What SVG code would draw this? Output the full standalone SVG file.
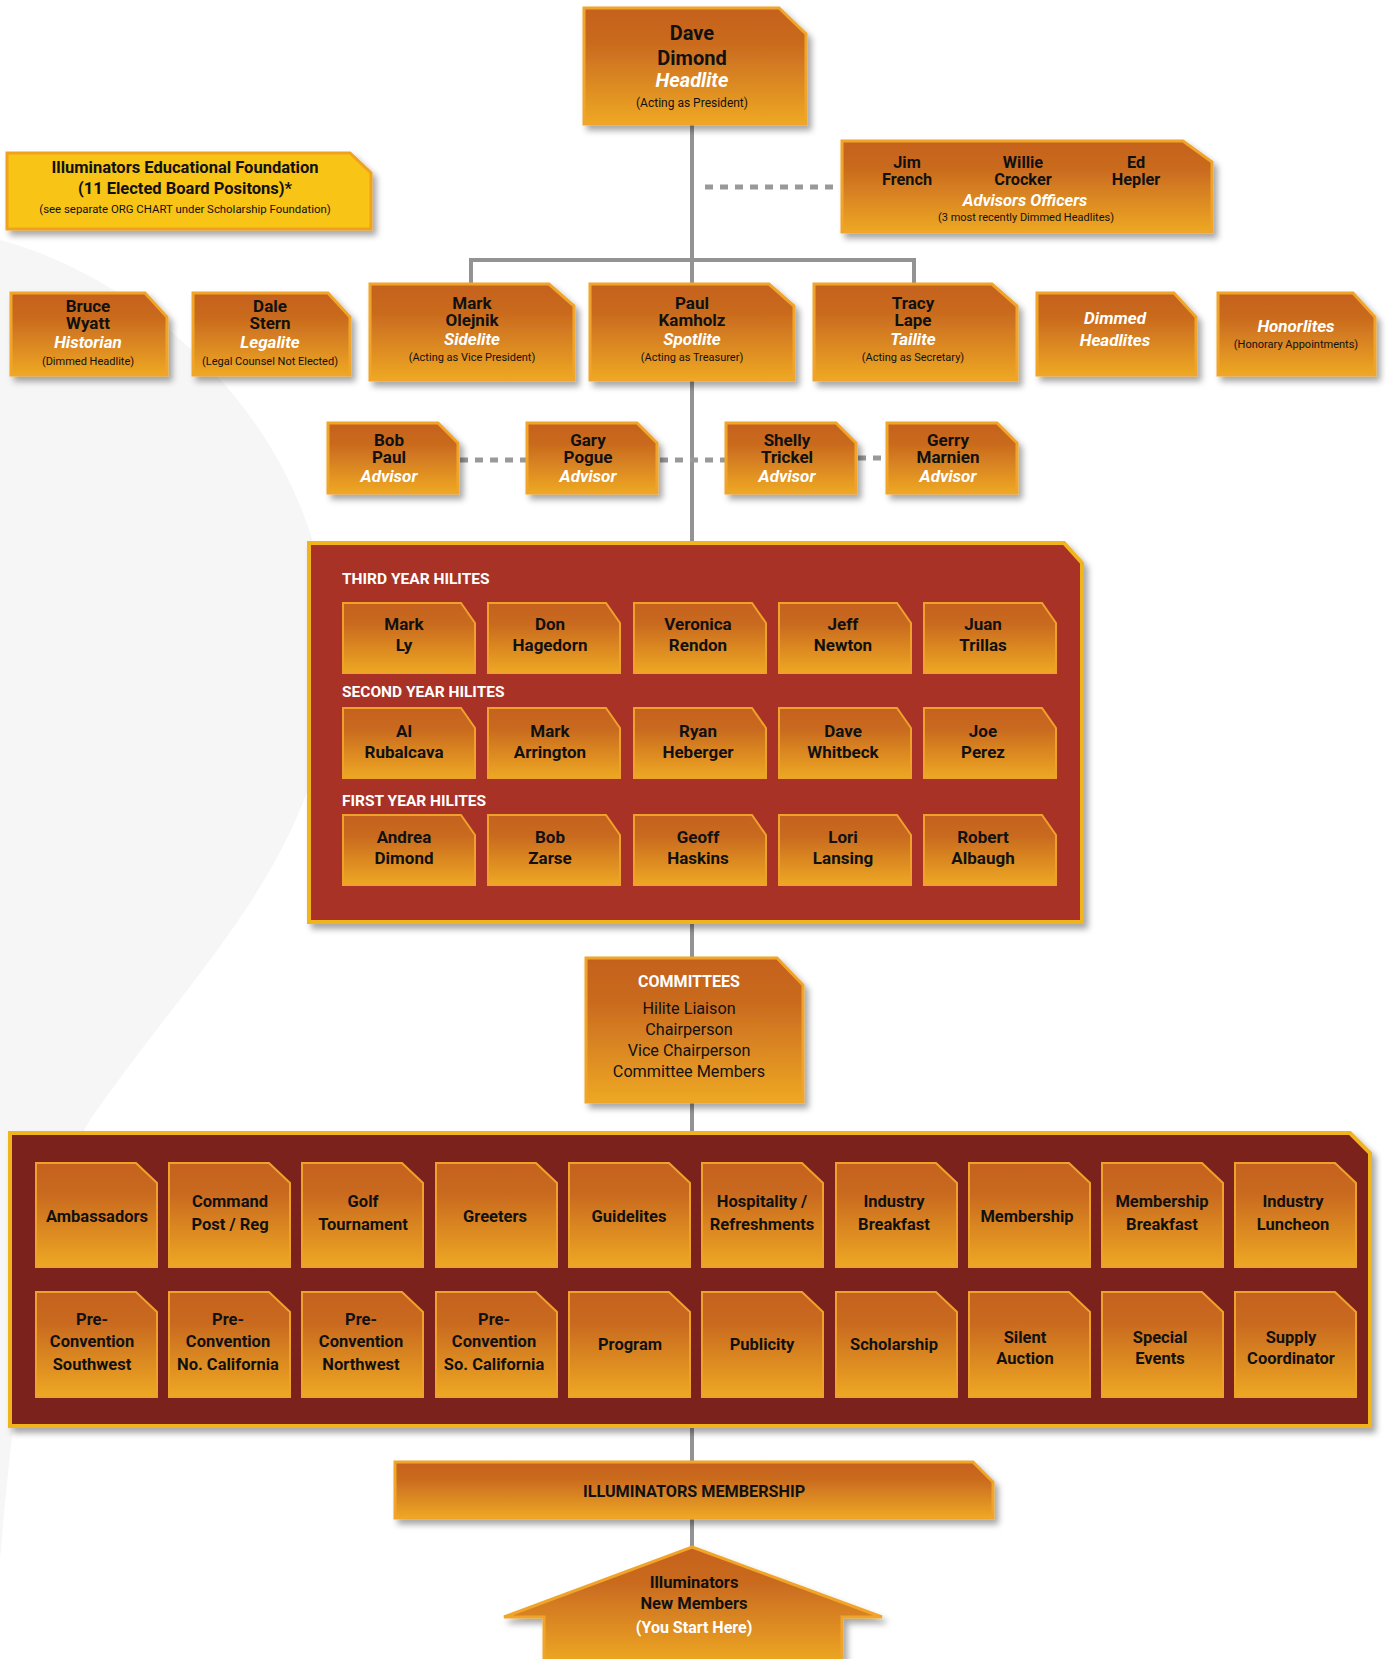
<svg xmlns="http://www.w3.org/2000/svg" width="1386" height="1659" viewBox="0 0 1386 1659">
<defs>
<linearGradient id="og" x1="0" y1="0" x2="0" y2="1">
<stop offset="0" stop-color="#C5611E"/>
<stop offset="0.3" stop-color="#C96A1F"/>
<stop offset="1" stop-color="#EEA823"/>
</linearGradient>
<filter id="sh" x="-10%" y="-10%" width="130%" height="140%">
<feDropShadow dx="4" dy="5" stdDeviation="3" flood-color="#000" flood-opacity="0.35"/>
</filter>
<style>
.box{fill:url(#og);stroke:#F0A52A;stroke-width:3;filter:url(#sh)}
.sm{fill:url(#og);stroke:#EFA22B;stroke-width:2}
.yel{fill:#F8C416;stroke:#EFA21F;stroke-width:3;filter:url(#sh)}
.red{fill:#A93026;stroke:#F2B41C;stroke-width:4;filter:url(#sh)}
.dark{fill:#7C221D;stroke:#F2B41C;stroke-width:4;filter:url(#sh)}
text{font-family:Roboto,"Liberation Sans",sans-serif;text-anchor:middle;fill:#111}
.n{font-size:17px;font-weight:bold}
.n2{font-size:16.3px;font-weight:bold}
.big{font-size:20px;font-weight:bold}
.r{font-size:17px;font-weight:bold;font-style:italic;fill:#fff}
.rb{font-size:20px;font-weight:bold;font-style:italic;fill:#fff}
.s{font-size:11px}
.c{font-size:17px;font-weight:bold}
.cm{font-size:16.5px;font-weight:bold}
.hd{font-size:15.5px;font-weight:bold;fill:#fff;text-anchor:start}
.w{font-size:16px;font-weight:bold;fill:#fff}
.reg{font-size:16.2px}
.conn{stroke:#939393;stroke-width:4;fill:none}
.dot{stroke:#999;stroke-width:5;stroke-dasharray:8 7;fill:none}
</style>
</defs>
<rect width="1386" height="1659" fill="#fff"/>
<g id="background">
<path fill="#F6F6F6" d="M0,240 C150,280 320,430 330,640 C340,840 200,960 90,1120 C40,1200 15,1380 0,1560 Z"/>
</g>
<g id="connectors">
<line class="conn" x1="692" y1="124" x2="692" y2="543"/>
<polyline class="conn" points="471,286 471,260 914,260 914,286"/>
<line class="dot" x1="705" y1="187" x2="838" y2="187"/>
<line class="dot" x1="460" y1="460" x2="527" y2="460"/>
<line class="dot" x1="660" y1="460" x2="726" y2="460"/>
<line class="dot" x1="858" y1="458" x2="887" y2="458"/>
<line class="conn" x1="692" y1="922" x2="692" y2="958"/>
<line class="conn" x1="692" y1="1102" x2="692" y2="1133"/>
<line class="conn" x1="692" y1="1426" x2="692" y2="1462"/>
<line class="conn" x1="692" y1="1518" x2="692" y2="1548"/>
</g>
<g id="n-dave">
<path class="box" d="M584,8 H779 L806,34 V124 H584 Z"/>
<text class="big" x="692" y="40">Dave</text>
<text class="big" x="692" y="65">Dimond</text>
<text class="rb" x="692" y="87">Headlite</text>
<text x="692" y="107" style="font-size:12px">(Acting as President)</text>
</g>
<g id="n-foundation">
<path class="yel" d="M7,153 H350 L371,173 V229 H7 Z"/>
<text x="185" y="173" style="font-size:16.5px;font-weight:bold">Illuminators Educational Foundation</text>
<text x="185" y="194" style="font-size:16.5px;font-weight:bold">(11 Elected Board Positons)*</text>
<text x="185" y="213" style="font-size:11.4px">(see separate ORG CHART under Scholarship Foundation)</text>
</g>
<g id="n-advisors-officers">
<path class="box" d="M842,141 H1183 L1212,162 V232 H842 Z"/>
<text class="n2" x="907" y="168">Jim</text>
<text class="n2" x="907" y="185">French</text>
<text class="n2" x="1023" y="168">Willie</text>
<text class="n2" x="1023" y="185">Crocker</text>
<text class="n2" x="1136" y="168">Ed</text>
<text class="n2" x="1136" y="185">Hepler</text>
<text class="r" x="1025" y="206" style="font-size:16.5px">Advisors Officers</text>
<text class="s" x="1026" y="221">(3 most recently Dimmed Headlites)</text>
</g>
<g id="n-bruce">
<path class="box" d="M11,293 H145 L167,317 V375 H11 Z"/>
<text class="n" x="88" y="312">Bruce</text>
<text class="n" x="88" y="329">Wyatt</text>
<text class="r" x="88" y="348">Historian</text>
<text class="s" x="88" y="365">(Dimmed Headlite)</text>
</g>
<g id="n-dale">
<path class="box" d="M193,293 H328 L350,317 V375 H193 Z"/>
<text class="n" x="270" y="312">Dale</text>
<text class="n" x="270" y="329">Stern</text>
<text class="r" x="270" y="348">Legalite</text>
<text class="s" x="270" y="365">(Legal Counsel Not Elected)</text>
</g>
<g id="n-mark-olejnik">
<path class="box" d="M370,284 H549 L574,306 V380 H370 Z"/>
<text class="n" x="472" y="309">Mark</text>
<text class="n" x="472" y="326">Olejnik</text>
<text class="r" x="472" y="345">Sidelite</text>
<text class="s" x="472" y="361">(Acting as Vice President)</text>
</g>
<g id="n-paul-kamholz">
<path class="box" d="M590,284 H769 L794,306 V380 H590 Z"/>
<text class="n" x="692" y="309">Paul</text>
<text class="n" x="692" y="326">Kamholz</text>
<text class="r" x="692" y="345">Spotlite</text>
<text class="s" x="692" y="361">(Acting as Treasurer)</text>
</g>
<g id="n-tracy-lape">
<path class="box" d="M814,284 H992 L1017,306 V380 H814 Z"/>
<text class="n" x="913" y="309">Tracy</text>
<text class="n" x="913" y="326">Lape</text>
<text class="r" x="913" y="345">Tailite</text>
<text class="s" x="913" y="361">(Acting as Secretary)</text>
</g>
<g id="n-dimmed">
<path class="box" d="M1037,293 H1174 L1196,317 V375 H1037 Z"/>
<text class="r" x="1115" y="324">Dimmed</text>
<text class="r" x="1115" y="346">Headlites</text>
</g>
<g id="n-honorlites">
<path class="box" d="M1218,293 H1353 L1375,317 V375 H1218 Z"/>
<text class="r" x="1296" y="332">Honorlites</text>
<text class="s" x="1296" y="348">(Honorary Appointments)</text>
</g>
<g id="n-bob-paul">
<path class="box" d="M328,423 H438 L458,443 V493 H328 Z"/>
<text class="n" x="389" y="446">Bob</text>
<text class="n" x="389" y="463">Paul</text>
<text class="r" x="389" y="482">Advisor</text>
</g>
<g id="n-gary-pogue">
<path class="box" d="M527,423 H637 L657,443 V493 H527 Z"/>
<text class="n" x="588" y="446">Gary</text>
<text class="n" x="588" y="463">Pogue</text>
<text class="r" x="588" y="482">Advisor</text>
</g>
<g id="n-shelly-trickel">
<path class="box" d="M726,423 H836 L856,443 V493 H726 Z"/>
<text class="n" x="787" y="446">Shelly</text>
<text class="n" x="787" y="463">Trickel</text>
<text class="r" x="787" y="482">Advisor</text>
</g>
<g id="n-gerry-marnien">
<path class="box" d="M887,423 H997 L1017,443 V493 H887 Z"/>
<text class="n" x="948" y="446">Gerry</text>
<text class="n" x="948" y="463">Marnien</text>
<text class="r" x="948" y="482">Advisor</text>
</g>
<g id="n-hilites">
<path class="red" d="M309,543 H1064 L1082,563 V922 H309 Z"/>
<text class="hd" x="342" y="584">THIRD YEAR HILITES</text>
<text class="hd" x="342" y="697">SECOND YEAR HILITES</text>
<text class="hd" x="342" y="806">FIRST YEAR HILITES</text>
</g>
<g id="n-mark-ly"><path class="sm" d="M343,603 H461 L475,623 V673 H343 Z"/><text class="c" x="404" y="630">Mark</text><text class="c" x="404" y="651">Ly</text></g>
<g id="n-don-hagedorn"><path class="sm" d="M488,603 H606 L620,623 V673 H488 Z"/><text class="c" x="550" y="630">Don</text><text class="c" x="550" y="651">Hagedorn</text></g>
<g id="n-veronica-rendon"><path class="sm" d="M634,603 H752 L766,623 V673 H634 Z"/><text class="c" x="698" y="630">Veronica</text><text class="c" x="698" y="651">Rendon</text></g>
<g id="n-jeff-newton"><path class="sm" d="M779,603 H897 L911,623 V673 H779 Z"/><text class="c" x="843" y="630">Jeff</text><text class="c" x="843" y="651">Newton</text></g>
<g id="n-juan-trillas"><path class="sm" d="M924,603 H1042 L1056,623 V673 H924 Z"/><text class="c" x="983" y="630">Juan</text><text class="c" x="983" y="651">Trillas</text></g>
<g id="n-al-rubalcava"><path class="sm" d="M343,708 H461 L475,728 V778 H343 Z"/><text class="c" x="404" y="737">Al</text><text class="c" x="404" y="758">Rubalcava</text></g>
<g id="n-mark-arrington"><path class="sm" d="M488,708 H606 L620,728 V778 H488 Z"/><text class="c" x="550" y="737">Mark</text><text class="c" x="550" y="758">Arrington</text></g>
<g id="n-ryan-heberger"><path class="sm" d="M634,708 H752 L766,728 V778 H634 Z"/><text class="c" x="698" y="737">Ryan</text><text class="c" x="698" y="758">Heberger</text></g>
<g id="n-dave-whitbeck"><path class="sm" d="M779,708 H897 L911,728 V778 H779 Z"/><text class="c" x="843" y="737">Dave</text><text class="c" x="843" y="758">Whitbeck</text></g>
<g id="n-joe-perez"><path class="sm" d="M924,708 H1042 L1056,728 V778 H924 Z"/><text class="c" x="983" y="737">Joe</text><text class="c" x="983" y="758">Perez</text></g>
<g id="n-andrea-dimond"><path class="sm" d="M343,815 H461 L475,835 V885 H343 Z"/><text class="c" x="404" y="843">Andrea</text><text class="c" x="404" y="864">Dimond</text></g>
<g id="n-bob-zarse"><path class="sm" d="M488,815 H606 L620,835 V885 H488 Z"/><text class="c" x="550" y="843">Bob</text><text class="c" x="550" y="864">Zarse</text></g>
<g id="n-geoff-haskins"><path class="sm" d="M634,815 H752 L766,835 V885 H634 Z"/><text class="c" x="698" y="843">Geoff</text><text class="c" x="698" y="864">Haskins</text></g>
<g id="n-lori-lansing"><path class="sm" d="M779,815 H897 L911,835 V885 H779 Z"/><text class="c" x="843" y="843">Lori</text><text class="c" x="843" y="864">Lansing</text></g>
<g id="n-robert-albaugh"><path class="sm" d="M924,815 H1042 L1056,835 V885 H924 Z"/><text class="c" x="983" y="843">Robert</text><text class="c" x="983" y="864">Albaugh</text></g>
<g id="n-committees">
<path class="box" d="M586,958 H777 L803,985 V1102 H586 Z"/>
<text class="w" x="689" y="987">COMMITTEES</text>
<text class="reg" x="689" y="1014">Hilite Liaison</text>
<text class="reg" x="689" y="1035">Chairperson</text>
<text class="reg" x="689" y="1056">Vice Chairperson</text>
<text class="reg" x="689" y="1077">Committee Members</text>
</g>
<g id="n-committee-list">
<path class="dark" d="M10,1133 H1350 L1370,1153 V1426 H10 Z"/>
</g>
<g id="n-ambassadors"><path class="sm" d="M36,1163 H136 L157,1183 V1267 H36 Z"/><text class="cm" x="97" y="1222">Ambassadors</text></g>
<g id="n-command-post"><path class="sm" d="M169,1163 H269 L290,1183 V1267 H169 Z"/><text class="cm" x="230" y="1207">Command</text><text class="cm" x="230" y="1230">Post / Reg</text></g>
<g id="n-golf"><path class="sm" d="M302,1163 H402 L423,1183 V1267 H302 Z"/><text class="cm" x="363" y="1207">Golf</text><text class="cm" x="363" y="1230">Tournament</text></g>
<g id="n-greeters"><path class="sm" d="M436,1163 H536 L557,1183 V1267 H436 Z"/><text class="cm" x="495" y="1222">Greeters</text></g>
<g id="n-guidelites"><path class="sm" d="M569,1163 H669 L690,1183 V1267 H569 Z"/><text class="cm" x="629" y="1222">Guidelites</text></g>
<g id="n-hospitality"><path class="sm" d="M702,1163 H802 L823,1183 V1267 H702 Z"/><text class="cm" x="762" y="1207">Hospitality /</text><text class="cm" x="762" y="1230">Refreshments</text></g>
<g id="n-industry-breakfast"><path class="sm" d="M836,1163 H936 L957,1183 V1267 H836 Z"/><text class="cm" x="894" y="1207">Industry</text><text class="cm" x="894" y="1230">Breakfast</text></g>
<g id="n-membership"><path class="sm" d="M969,1163 H1069 L1090,1183 V1267 H969 Z"/><text class="cm" x="1027" y="1222">Membership</text></g>
<g id="n-membership-breakfast"><path class="sm" d="M1102,1163 H1202 L1223,1183 V1267 H1102 Z"/><text class="cm" x="1162" y="1207">Membership</text><text class="cm" x="1162" y="1230">Breakfast</text></g>
<g id="n-industry-luncheon"><path class="sm" d="M1235,1163 H1335 L1356,1183 V1267 H1235 Z"/><text class="cm" x="1293" y="1207">Industry</text><text class="cm" x="1293" y="1230">Luncheon</text></g>
<g id="n-pre-southwest"><path class="sm" d="M36,1292 H136 L157,1312 V1397 H36 Z"/><text class="cm" x="92" y="1325">Pre-</text><text class="cm" x="92" y="1347">Convention</text><text class="cm" x="92" y="1370">Southwest</text></g>
<g id="n-pre-nocal"><path class="sm" d="M169,1292 H269 L290,1312 V1397 H169 Z"/><text class="cm" x="228" y="1325">Pre-</text><text class="cm" x="228" y="1347">Convention</text><text class="cm" x="228" y="1370">No. California</text></g>
<g id="n-pre-northwest"><path class="sm" d="M302,1292 H402 L423,1312 V1397 H302 Z"/><text class="cm" x="361" y="1325">Pre-</text><text class="cm" x="361" y="1347">Convention</text><text class="cm" x="361" y="1370">Northwest</text></g>
<g id="n-pre-socal"><path class="sm" d="M436,1292 H536 L557,1312 V1397 H436 Z"/><text class="cm" x="494" y="1325">Pre-</text><text class="cm" x="494" y="1347">Convention</text><text class="cm" x="494" y="1370">So. California</text></g>
<g id="n-program"><path class="sm" d="M569,1292 H669 L690,1312 V1397 H569 Z"/><text class="cm" x="630" y="1350">Program</text></g>
<g id="n-publicity"><path class="sm" d="M702,1292 H802 L823,1312 V1397 H702 Z"/><text class="cm" x="762" y="1350">Publicity</text></g>
<g id="n-scholarship"><path class="sm" d="M836,1292 H936 L957,1312 V1397 H836 Z"/><text class="cm" x="894" y="1350">Scholarship</text></g>
<g id="n-silent-auction"><path class="sm" d="M969,1292 H1069 L1090,1312 V1397 H969 Z"/><text class="cm" x="1025" y="1343">Silent</text><text class="cm" x="1025" y="1364">Auction</text></g>
<g id="n-special-events"><path class="sm" d="M1102,1292 H1202 L1223,1312 V1397 H1102 Z"/><text class="cm" x="1160" y="1343">Special</text><text class="cm" x="1160" y="1364">Events</text></g>
<g id="n-supply"><path class="sm" d="M1235,1292 H1335 L1356,1312 V1397 H1235 Z"/><text class="cm" x="1291" y="1343">Supply</text><text class="cm" x="1291" y="1364">Coordinator</text></g>
<g id="n-membership-main">
<path class="box" d="M395,1462 H973 L993,1482 V1518 H395 Z"/>
<text x="694" y="1497" style="font-size:16.2px;font-weight:bold">ILLUMINATORS MEMBERSHIP</text>
</g>
<g id="n-new-members">
<path class="box" d="M692,1547 L882,1617 L842,1617 L842,1664 L544,1664 L544,1617 L504,1617 Z"/>
<text x="694" y="1588" style="font-size:16.5px;font-weight:bold">Illuminators</text>
<text x="694" y="1609" style="font-size:16.5px;font-weight:bold">New Members</text>
<text class="w" x="694" y="1633">(You Start Here)</text>
</g>
</svg>
